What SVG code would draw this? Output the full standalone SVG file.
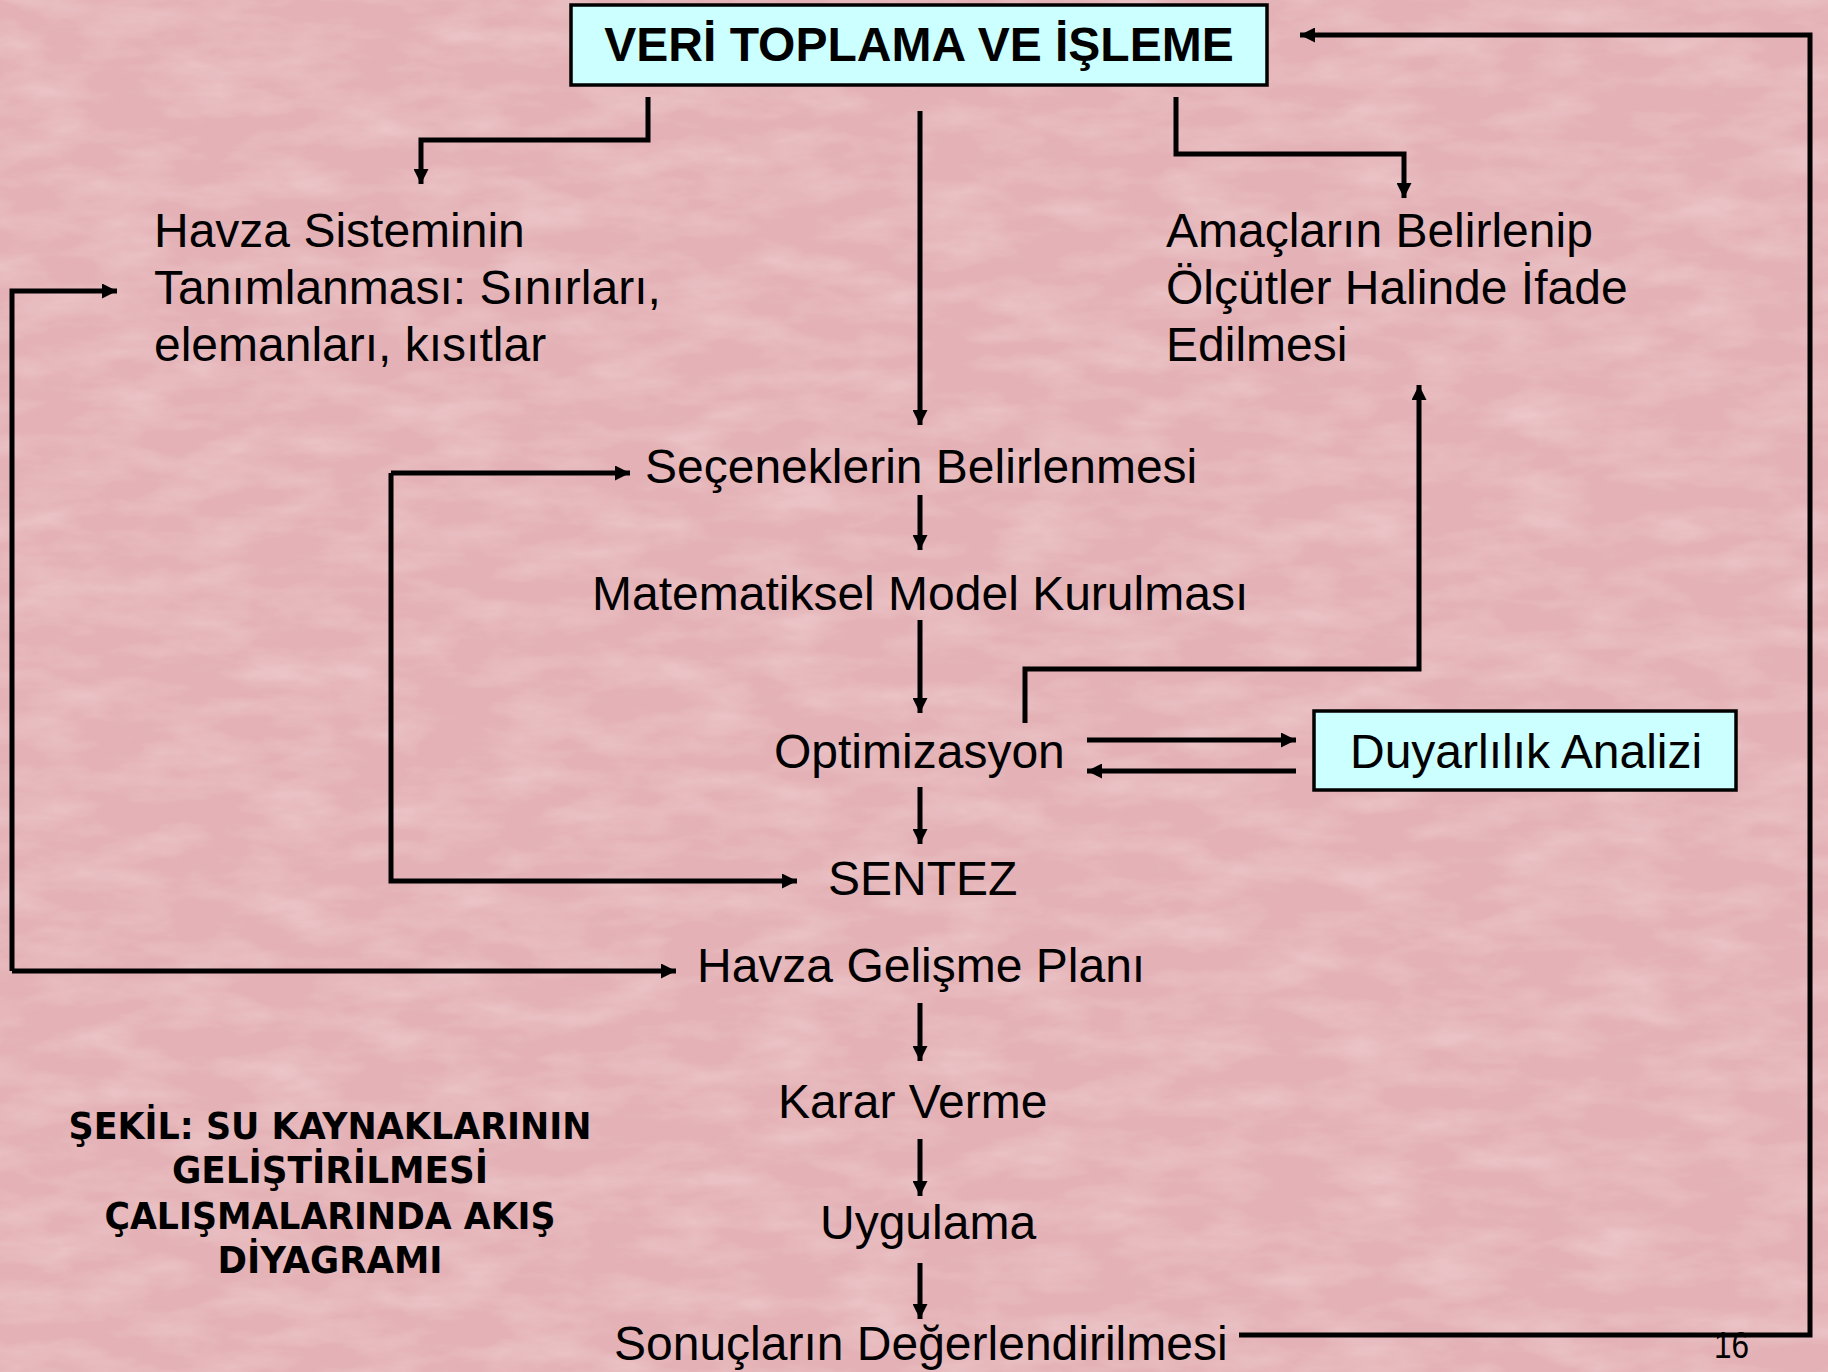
<svg xmlns="http://www.w3.org/2000/svg" width="1828" height="1372" viewBox="0 0 1828 1372">
  <style>
    .t { font-family: "Liberation Sans", Arial, sans-serif; font-size: 48px; fill: #000; }
    .title { font-family: "Liberation Sans", Arial, sans-serif; font-size: 48px; font-weight: bold; fill: #000; }
    .cap { font-family: "DejaVu Sans", Verdana, sans-serif; font-size: 37px; font-weight: bold; fill: #000; }
    .box { fill: #CCFFFF; stroke: #000; stroke-width: 3.5; }
    .c { fill: none; stroke: #000; stroke-width: 5; }
    .a { marker-end: url(#arr); }
  </style>
  <defs>
    <marker id="arr" viewBox="0 0 10 10" refX="10" refY="5" markerWidth="18" markerHeight="15" markerUnits="userSpaceOnUse" orient="auto">
      <path d="M0,0 L10,5 L0,10 z" fill="#000"/>
    </marker>
    <filter id="tex" x="0" y="0" width="100%" height="100%">
      <feTurbulence type="fractalNoise" baseFrequency="0.012 0.035" numOctaves="4" seed="7"/>
      <feColorMatrix type="matrix" values="0 0 0 0 1  0 0 0 0 0.93  0 0 0 0 0.94  0 0 0 0.9 -0.35"/>
    </filter>
  </defs>

  <rect id="background" x="0" y="0" width="1828" height="1372" fill="#E4B2B6"/>
  <rect x="0" y="0" width="1828" height="1372" filter="url(#tex)" opacity="0.6"/>

  <g id="connectors">
    <path class="c a" d="M648,97 V140 H421 V184"/>
    <path class="c a" d="M920,111 V425"/>
    <path class="c a" d="M1176,97 V154 H1404 V198"/>
    <path class="c a" d="M12,971 V291 H117"/>
    <path class="c a" d="M12,971 H676"/>
    <path class="c a" d="M391,473 H630"/>
    <path class="c a" d="M391,473 V881 H797"/>
    <path class="c a" d="M920,495 V550"/>
    <path class="c a" d="M920,620 V713"/>
    <path class="c a" d="M920,787 V844"/>
    <path class="c a" d="M1087,740 H1296"/>
    <path class="c a" d="M1296,771 H1087"/>
    <path class="c a" d="M1025,723 V669 H1419 V385"/>
    <path class="c a" d="M920,1003 V1061"/>
    <path class="c a" d="M920,1139 V1196"/>
    <path class="c a" d="M920,1263 V1319"/>
    <path class="c a" d="M1239,1335 H1810 V35 H1300"/>
  </g>

  <g id="veri-toplama">
    <rect class="box" x="571" y="5" width="696" height="80"/>
    <text class="title" x="919" y="61" text-anchor="middle">VERİ TOPLAMA VE İŞLEME</text>
  </g>

  <g id="havza-sistemi">
    <text class="t" x="154" y="247">Havza Sisteminin</text>
    <text class="t" x="154" y="304">Tanımlanması: Sınırları,</text>
    <text class="t" x="154" y="361">elemanları, kısıtlar</text>
  </g>

  <g id="amaclar">
    <text class="t" x="1166" y="247">Amaçların Belirlenip</text>
    <text class="t" x="1166" y="304">Ölçütler Halinde İfade</text>
    <text class="t" x="1166" y="361">Edilmesi</text>
  </g>

  <g id="secenekler"><text class="t" x="645" y="483">Seçeneklerin Belirlenmesi</text></g>
  <g id="model"><text class="t" x="592" y="610">Matematiksel Model Kurulması</text></g>
  <g id="optimizasyon"><text class="t" x="774" y="768">Optimizasyon</text></g>
  <g id="duyarlilik">
    <rect class="box" x="1314" y="711" width="422" height="79"/>
    <text class="t" x="1350" y="768">Duyarlılık Analizi</text>
  </g>
  <g id="sentez"><text class="t" x="828" y="895">SENTEZ</text></g>
  <g id="havza-plan"><text class="t" x="697" y="982">Havza Gelişme Planı</text></g>
  <g id="karar"><text class="t" x="778" y="1118">Karar Verme</text></g>
  <g id="uygulama"><text class="t" x="820" y="1239">Uygulama</text></g>
  <g id="sonuclar"><text class="t" x="614" y="1360">Sonuçların Değerlendirilmesi</text></g>

  <g id="caption">
    <text class="cap" x="330" y="1139" text-anchor="middle" textLength="523" lengthAdjust="spacingAndGlyphs">ŞEKİL: SU KAYNAKLARININ</text>
    <text class="cap" x="330" y="1183" text-anchor="middle" textLength="316" lengthAdjust="spacingAndGlyphs">GELİŞTİRİLMESİ</text>
    <text class="cap" x="330" y="1229" text-anchor="middle" textLength="451" lengthAdjust="spacingAndGlyphs">ÇALIŞMALARINDA AKIŞ</text>
    <text class="cap" x="330" y="1273" text-anchor="middle" textLength="225" lengthAdjust="spacingAndGlyphs">DİYAGRAMI</text>
  </g>

  <g id="page-number"><text class="t" x="1714" y="1358" style="font-size:36px" textLength="35" lengthAdjust="spacingAndGlyphs">16</text></g>
</svg>
